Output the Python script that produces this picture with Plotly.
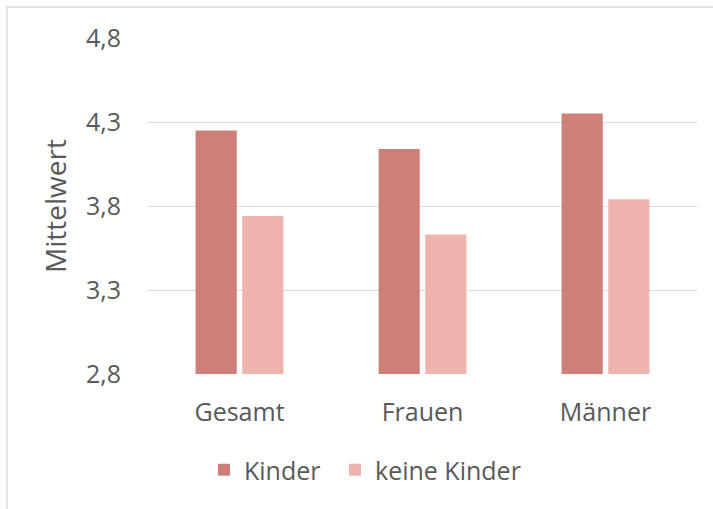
import plotly.graph_objects as go

categories = ["Gesamt", "Frauen", "Männer"]
kinder = [4.25, 4.14, 4.35]
keine_kinder = [3.74, 3.63, 3.84]
tick_vals = [2.8, 3.3, 3.8, 4.3, 4.8]
tick_text = ["2,8", "3,3", "3,8", "4,3", "4,8"]

W, H = 713, 509
L, R, T, B = 148, 16, 38, 135
pw, ph = W - L - R, H - T - B

def px(x):
    return (x - L) / pw

def py(y):
    return (H - B - y) / ph

fig = go.Figure()
fig.add_trace(go.Bar(x=categories, y=kinder, name="Kinder", legend="legend",
                     marker=dict(color="#CD7F78", line=dict(width=0))))
fig.add_trace(go.Bar(x=categories, y=keine_kinder, name="keine Kinder", legend="legend2",
                     marker=dict(color="#EFB3AD", line=dict(width=0))))

legend_style = dict(orientation="h", xanchor="left", y=py(470), yanchor="middle",
                    font=dict(size=25, color="#595959"), bgcolor="rgba(0,0,0,0)")

fig.update_layout(
    width=W, height=H,
    margin=dict(l=L, r=R, t=T, b=B, autoexpand=False),
    paper_bgcolor="white", plot_bgcolor="white",
    font=dict(family="Open Sans", color="#595959", size=25),
    barmode="group", bargap=0.49, bargroupgap=0.118,
    showlegend=True,
    legend=dict(x=px(204), **legend_style),
    legend2=dict(x=px(335), **legend_style),
    xaxis=dict(showgrid=False, showline=False, zeroline=False, ticks="", automargin=False,
               tickfont=dict(size=25, color="#595959"), ticklabelstandoff=21),
    yaxis=dict(range=[2.8, 4.8], tickvals=tick_vals, ticktext=tick_text, automargin=False,
               showgrid=True, gridcolor="#D9D9D9", gridwidth=1.3,
               zeroline=False, showline=False, ticks="",
               tickfont=dict(size=25, color="#595959"), ticklabelstandoff=26,
               title=dict(text="Mittelwert", font=dict(size=28, color="#595959"), standoff=11)),
    shapes=[dict(type="rect", xref="paper", yref="paper",
                 x0=px(7), x1=px(730), y0=py(530), y1=py(7),
                 line=dict(color="#D9D9D9", width=1.3), fillcolor="rgba(0,0,0,0)", layer="below")],
)

fig.write_html("out.html", config={"displayModeBar": False},
               post_script="document.body.style.margin='0';document.body.style.padding='0';")
